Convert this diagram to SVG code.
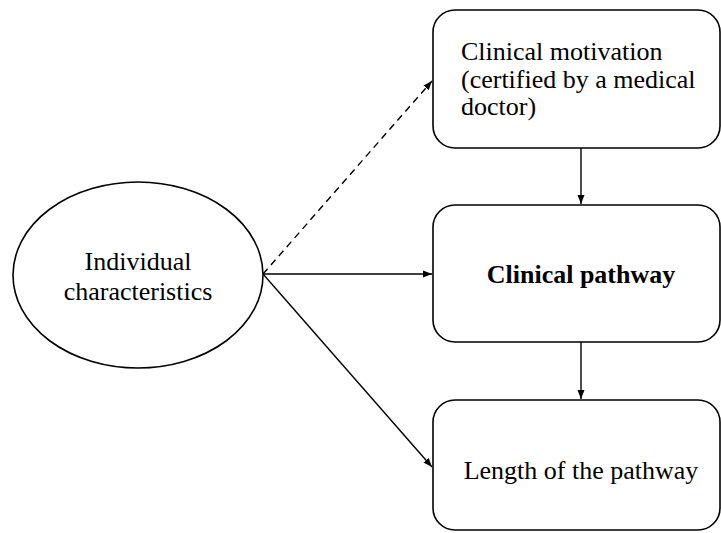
<svg xmlns="http://www.w3.org/2000/svg" width="721" height="533" viewBox="0 0 721 533">
<style>
.node{fill:#fff;stroke:#000;stroke-width:1.6}
.t{font-family:"Liberation Serif","Times New Roman",serif;font-size:26px;fill:#000}
.c{stroke:#000;stroke-width:1.4;fill:none}
</style>
<defs>
<marker id="ah" markerWidth="10" markerHeight="8" refX="9" refY="4" orient="auto" markerUnits="userSpaceOnUse">
<path d="M0,0.5 L9,4 L0,7.5 z" fill="#000"/>
</marker>
</defs>
<rect width="721" height="533" fill="#fff"/>
<g id="connectors">
<line class="c" x1="263" y1="274" x2="432" y2="81" stroke-dasharray="7,5" marker-end="url(#ah)"/>
<line class="c" x1="263" y1="274" x2="432" y2="274" marker-end="url(#ah)"/>
<line class="c" x1="263" y1="274" x2="432" y2="467" marker-end="url(#ah)"/>
<line class="c" x1="581" y1="148" x2="581" y2="204" marker-end="url(#ah)"/>
<line class="c" x1="581" y1="342" x2="581" y2="399" marker-end="url(#ah)"/>
</g>
<g id="individual">
<ellipse class="node" cx="138" cy="275" rx="125" ry="93"/>
<text class="t" x="138" y="270" text-anchor="middle">Individual</text>
<text class="t" x="138" y="300" text-anchor="middle">characteristics</text>
</g>
<g id="motivation">
<rect class="node" x="433" y="10" width="287" height="138" rx="22"/>
<text class="t" x="461" y="60">Clinical motivation</text>
<text class="t" x="461" y="88">(certified by a medical</text>
<text class="t" x="461" y="115">doctor)</text>
</g>
<g id="pathway">
<rect class="node" x="433" y="205" width="287" height="137" rx="22"/>
<text class="t" x="581" y="283" text-anchor="middle" font-weight="bold">Clinical pathway</text>
</g>
<g id="length">
<rect class="node" x="433" y="400" width="287" height="130" rx="22"/>
<text class="t" x="581" y="479" text-anchor="middle">Length of the pathway</text>
</g>
</svg>
